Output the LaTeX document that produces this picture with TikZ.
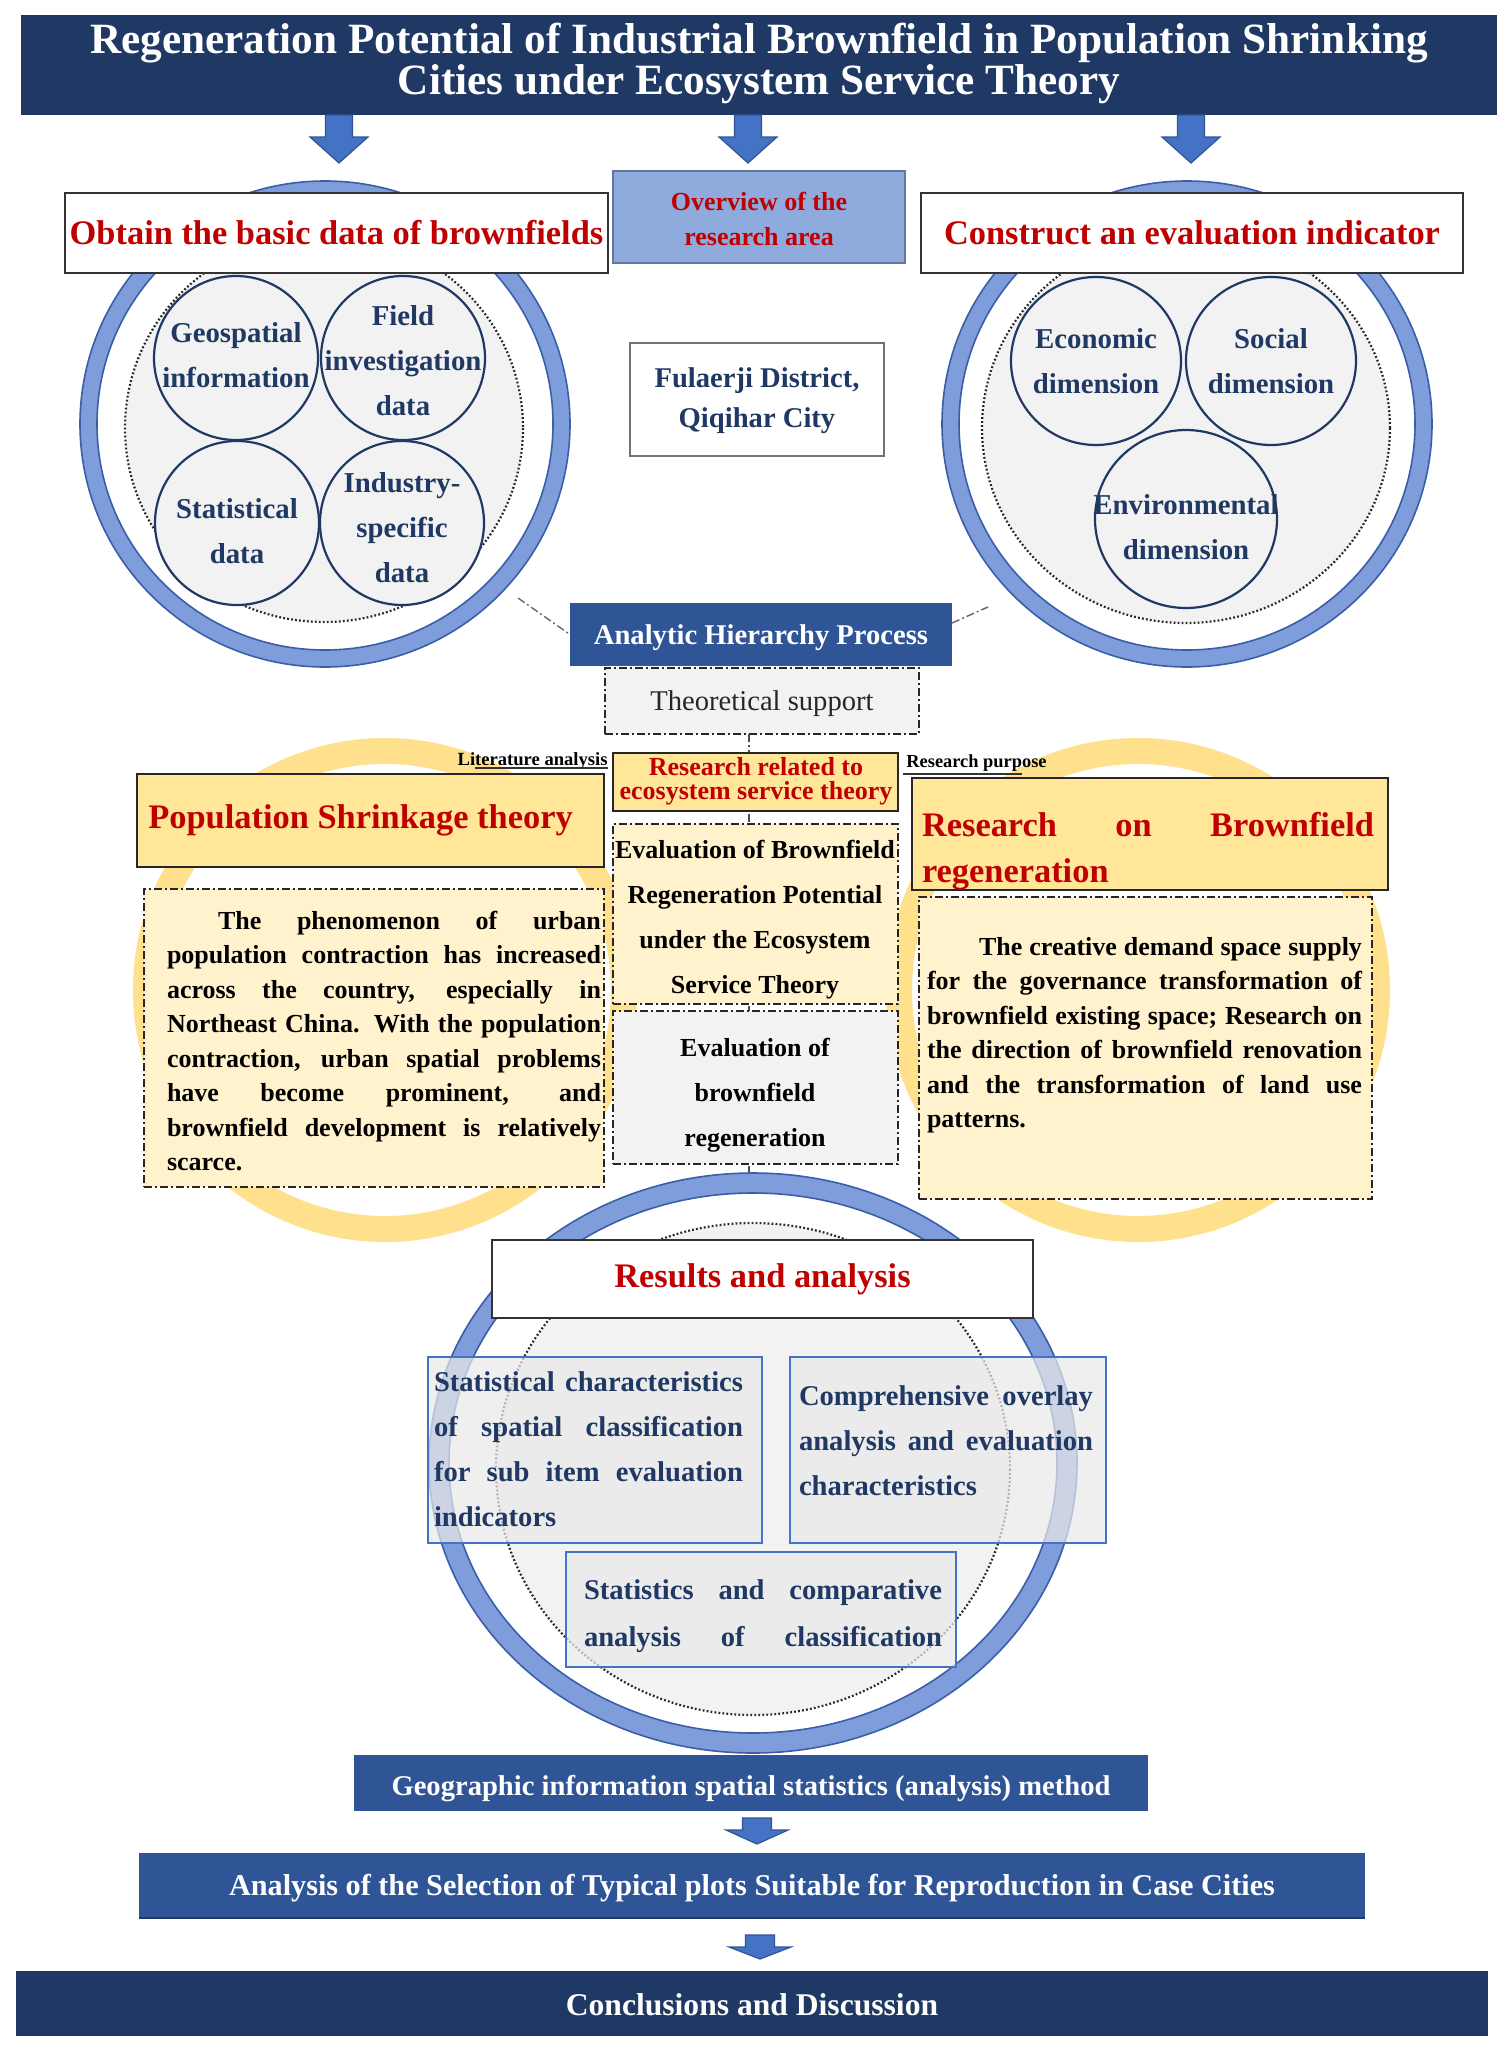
\documentclass[tikz,border=0pt]{standalone}
\usepackage{fontspec}
\setmainfont{Liberation Serif}
\usetikzlibrary{fit,shapes.geometric}
\definecolor{navy}{HTML}{203864}
\definecolor{midblue}{HTML}{2F5597}
\definecolor{arrowblue}{HTML}{4472C4}
\definecolor{ringfill}{HTML}{7F9DDA}
\definecolor{ringedge}{HTML}{3A5EA8}
\definecolor{softgray}{HTML}{F2F2F2}
\definecolor{ovblue}{HTML}{8FAADC}
\definecolor{gold}{HTML}{FFE699}
\definecolor{cream}{HTML}{FFF2CC}
\definecolor{ringgold}{HTML}{FFE08C}
\definecolor{darkred}{HTML}{C00000}
\definecolor{textnavy}{HTML}{1F3864}
\definecolor{boxgray}{HTML}{E9E9E9}
\newcommand{\fsz}[2]{\fontsize{#1}{#2}\selectfont}
\newcommand{\blockarrow}[6]{%
  \filldraw[fill=arrowblue, draw=midblue, line width=0.6pt]
    ({#1-#5},#2) -- ({#1+#5},#2) -- ({#1+#5},#3) -- ({#1+#6},#3) -- (#1,#4)
    -- ({#1-#6},#3) -- ({#1-#5},#3) -- cycle;}
\begin{document}
\begin{tikzpicture}[x=0.5pt,y=-0.5pt,
  fitbox/.style={inner sep=0pt, outer sep=0pt},
  lbl/.style={inner sep=0pt, outer sep=0pt},
  hdrbox/.style={fitbox, fill=white, draw=black!80, line width=1pt},
  hdrtext/.style={lbl, font=\bfseries\fsz{17.2}{20}, text=darkred},
  bluebar/.style={fitbox, fill=midblue},
  bartext/.style={lbl, text=white, font=\bfseries\fsz{14.3}{17}},
  ringdot/.style={draw=black!85, line width=1.1pt, dash pattern=on 0.9pt off 1.1pt},
  smallcirc/.style={draw=textnavy, line width=1.1pt, fill=softgray},
  circtext/.style={align=center, text=textnavy, font=\bfseries\fsz{14.4}{22.5}},
  ddash/.style={dash pattern=on 4pt off 1.5pt on 1pt off 1.5pt},
  ddbox/.style={fitbox, draw=black!85, line width=1.1pt, ddash},
  goldbox/.style={fitbox, fill=gold, draw=black!85, line width=1.4pt},
  para/.style={inner sep=0pt, align=justify, font=\bfseries\fsz{13}{17.25}, text=black},
  resbox/.style={fitbox, fill=boxgray, fill opacity=0.72, draw=arrowblue, line width=1.2pt},
  restext/.style={inner sep=0pt, align=justify, text=textnavy, font=\bfseries\fsz{14.3}{22.5}},
  conn/.style={draw=black!60, line width=0.7pt, ddash}
]
\useasboundingbox (0,0) rectangle (1509,2051);
\fill[white] (0,0) rectangle (1509,2051);

% ---------- Title ----------
\node[fitbox, fill=navy, fit={(21,15) (1497,115)}] (title) {};
\node[lbl, text=white, align=center, font=\bfseries\fsz{21.6}{20.5}] (titlet) at (759,63)
  {Regeneration Potential of Industrial Brownfield in Population Shrinking\\Cities under Ecosystem Service Theory};
\blockarrow{339}{115}{137}{163}{13.5}{29}
\blockarrow{748}{115}{137}{163}{13.5}{29}
\blockarrow{1191}{115}{137}{163}{13.5}{29}

% ---------- Left ring ----------
\coordinate (lc) at (325,424);
\fill[ringfill, even odd rule] (lc) ellipse [x radius=245, y radius=243]
   (lc) ellipse [x radius=228, y radius=226];
\draw[ringedge, line width=0.8pt] (lc) ellipse [x radius=245, y radius=243];
\draw[ringedge, line width=0.8pt] (lc) ellipse [x radius=228, y radius=226];
\fill[softgray] (324,428) ellipse [x radius=199, y radius=194];
\draw[ringdot] (324,428) ellipse [x radius=199, y radius=194];
\node[smallcirc, circle, minimum size=82pt, inner sep=0pt] (geo) at (236,358) {};
\node[smallcirc, circle, minimum size=82pt, inner sep=0pt] (field) at (403,358) {};
\node[smallcirc, circle, minimum size=82pt, inner sep=0pt] (stat) at (237,523) {};
\node[smallcirc, circle, minimum size=82pt, inner sep=0pt] (ind) at (402,523) {};
\node[circtext] (geot) at (236,355) {Geospatial\\information};
\node[circtext] (fieldt) at (403,361) {Field\\investigation\\data};
\node[circtext] (statt) at (237,531) {Statistical\\data};
\node[circtext] (indt) at (402,528) {Industry-\\specific\\data};

% ---------- Right ring ----------
\coordinate (rc) at (1187,424);
\fill[ringfill, even odd rule] (rc) ellipse [x radius=245, y radius=243]
   (rc) ellipse [x radius=228, y radius=226];
\draw[ringedge, line width=0.8pt] (rc) ellipse [x radius=245, y radius=243];
\draw[ringedge, line width=0.8pt] (rc) ellipse [x radius=228, y radius=226];
\fill[softgray] (1186,428) ellipse [x radius=204, y radius=195];
\draw[ringdot] (1186,428) ellipse [x radius=204, y radius=195];
\node[smallcirc, ellipse, minimum width=85pt, minimum height=84pt, inner sep=0pt] (eco) at (1096,361) {};
\node[smallcirc, ellipse, minimum width=85pt, minimum height=84pt, inner sep=0pt] (soc) at (1271,361) {};
\node[smallcirc, ellipse, minimum width=91pt, minimum height=89pt, inner sep=0pt] (env) at (1186,519) {};
\node[circtext] (ecot) at (1096,361) {Economic\\dimension};
\node[circtext] (soct) at (1271,361) {Social\\dimension};
\node[circtext] (envt) at (1186,527) {Environmental\\dimension};

% ---------- Headers ----------
\node[hdrbox, fit={(65,193) (608,273)}] (hL) {};
\node[hdrtext] (hLt) at (hL.center) {Obtain the basic data of brownfields};
\node[hdrbox, fit={(921,193) (1463,273)}] (hR) {};
\node[hdrtext] (hRt) at (hR.center) {Construct an evaluation indicator};
\node[fitbox, fill=ovblue, draw=ovblue!70!black, line width=0.6pt, fit={(613,171) (905,263)}] (ov) {};
\node[lbl, align=center, text=darkred, font=\bfseries\fsz{13}{17.5}] (ovt) at (759,219) {Overview of the\\research area};
\node[fitbox, fill=white, draw=black!55, line width=0.8pt, fit={(630,343) (884,456)}] (fula) {};
\node[lbl, align=center, text=textnavy, font=\bfseries\fsz{14.3}{20}] (fulat) at (757,401) {Fulaerji District,\\Qiqihar City};

% ---------- AHP ----------
\node[bluebar, fit={(570,603) (952,666)}] (ahp) {};
\node[bartext] (ahpt) at (761,638) {Analytic Hierarchy Process};
\coordinate (lr) at (518,598);
\coordinate (rr) at (988,607);
\draw[conn] (lr) -- (ahp.west);
\draw[conn] ([yshift=5.75pt]ahp.east) -- (rr);
\node[ddbox, fill=softgray, fit={(605,668) (919,734)}] (ts) {};
\node[lbl, font=\fsz{14.3}{17}, text=black!85] (tst) at (762,704) {Theoretical support};

% ---------- Yellow rings ----------
\draw[ringgold, line width=13pt] (385,990) circle [radius=239];
\draw[ringgold, line width=13pt] (1138,990) circle [radius=239];

% ---------- Central dash-dot line ----------
\coordinate (vend) at (749,1213);
\draw[draw=black!70, line width=0.8pt, ddash] (vend |- ts.south) -- (vend);

% ---------- Left column ----------
\node[goldbox, fit={(137,774) (604,867)}] (pop) {};
\node[anchor=west, inner sep=0pt, text=darkred, font=\bfseries\fsz{17.2}{20}] (popt) at (148,820) {Population Shrinkage theory};
\node[ddbox, fill=cream, fit={(144,889) (604,1187)}] (lbox) {};
\node[para, text width=217pt] (ltext) at (384,1041) {\tolerance=10000\hyphenpenalty=10000
\hspace*{25.5pt}The phenomenon of urban\linebreak population contraction has increased\linebreak across the country, especially in\linebreak Northeast China. With the population\linebreak contraction, urban spatial problems\linebreak have become prominent, and\linebreak brownfield development is relatively\linebreak scarce.};
\node[anchor=base east, inner sep=0pt, font=\bfseries\fsz{9.3}{11}] (litlab) at (608,765) {Literature analysis};
\coordinate (lu1) at (475,768);
\coordinate (lu2) at (608,768);
\draw[black!80, line width=0.7pt] (lu1) -- (lu2);

% ---------- Right column ----------
\node[goldbox, fit={(912,778) (1388,890)}] (rob) {};
\node[inner sep=0pt, align=justify, text width=226pt, text=darkred, font=\bfseries\fsz{17.2}{23}] (robt) at (1148,851)
  {\tolerance=10000\hyphenpenalty=10000 Research on Brownfield\linebreak regeneration};
\node[ddbox, fill=cream, fit={(919,897) (1372,1199)}] (rbox) {};
\node[para, text width=217.5pt] (rtext) at (1144.5,1035) {\tolerance=10000\hyphenpenalty=10000
\hspace*{26pt}The creative demand space supply\linebreak for the governance transformation of\linebreak brownfield existing space; Research on\linebreak the direction of brownfield renovation\linebreak and the transformation of land use\linebreak patterns.};
\node[anchor=base west, inner sep=0pt, font=\bfseries\fsz{9.2}{11}] (rplab) at (906,767) {Research purpose};
\coordinate (ru1) at (903,774);
\coordinate (ru2) at (1022,774);
\draw[black!80, line width=0.7pt] (ru1) -- (ru2);

% ---------- Middle column ----------
\node[goldbox, line width=1.2pt, fit={(613,753) (898,811)}] (rr2) {};
\node[lbl, align=center, text=darkred, font=\bfseries\fsz{13}{12}] (rr2t) at (756,781)
  {Research related to\\ecosystem service theory};
\node[ddbox, fill=cream, fit={(613,824) (898,1004)}] (ev1) {};
\node[lbl, align=center, font=\bfseries\fsz{13}{22.5}] (ev1t) at (755,920)
  {Evaluation of Brownfield\\Regeneration Potential\\under the Ecosystem\\Service Theory};
\node[ddbox, fill=softgray, fit={(613,1011) (898,1164)}] (ev2) {};
\node[lbl, align=center, font=\bfseries\fsz{13}{22.5}] (ev2t) at (755,1095)
  {Evaluation of\\brownfield\\regeneration};

% ---------- Results ring ----------
\coordinate (bc) at (753,1463);
\fill[white] (bc) ellipse [x radius=304, y radius=270];
\fill[ringfill, even odd rule] (bc) ellipse [x radius=324, y radius=290]
   (bc) ellipse [x radius=304, y radius=270];
\draw[ringedge, line width=0.8pt] (bc) ellipse [x radius=324, y radius=290];
\draw[ringedge, line width=0.8pt] (bc) ellipse [x radius=304, y radius=270];
\fill[softgray] (753,1469) ellipse [x radius=257, y radius=246];
\draw[ringdot] (753,1469) ellipse [x radius=257, y radius=246];
\node[hdrbox, line width=1.3pt, fit={(492,1240) (1033,1318)}] (res) {};
\node[hdrtext] (rest) at (res.center) {Results and analysis};
\node[resbox, fit={(428,1357) (762,1543)}] (sc) {};
\node[resbox, fit={(790,1357) (1106,1543)}] (co) {};
\node[resbox, fit={(566,1552) (956,1667)}] (sa) {};
\node[restext, text width=154.5pt] (sct) at (588.5,1449) {\tolerance=10000\hyphenpenalty=10000
Statistical characteristics\linebreak of spatial classification\linebreak for sub item evaluation\linebreak indicators};
\node[restext, text width=147pt] (cot) at (946,1441) {\tolerance=10000\hyphenpenalty=10000
Comprehensive overlay\linebreak analysis and evaluation\linebreak characteristics};
\node[restext, align=left, font=\bfseries\fsz{14.3}{23.5}] (sat) at (763,1616)
  {\hbox to 179pt{Statistics\hfill and\hfill comparative}\\\hbox to 179pt{analysis\hfill of\hfill classification}};

% ---------- Bottom ----------
\node[bluebar, fit={(354,1755) (1148,1811)}] (geo2) {};
\node[bartext] (geo2t) at (751,1789)
  {Geographic information spatial statistics (analysis) method};
\blockarrow{757}{1818}{1830}{1844}{14.5}{31}
\node[bluebar, fit={(139,1853) (1365,1918)}] (sel) {};
\node[lbl, text=white, font=\bfseries\fsz{15.1}{18}] (selt) at (752,1888)
  {Analysis of the Selection of Typical plots Suitable for Reproduction in Case Cities};
\draw[navy, line width=1.2pt] (sel.south west) -- (sel.south east);
\blockarrow{760}{1935}{1947}{1959}{14.5}{31}
\node[fitbox, fill=navy, fit={(16,1971) (1488,2036)}] (conc) {};
\node[lbl, text=white, font=\bfseries\fsz{15.8}{18}] (conct) at (752,2005) {Conclusions and Discussion};
\end{tikzpicture}
\end{document}
